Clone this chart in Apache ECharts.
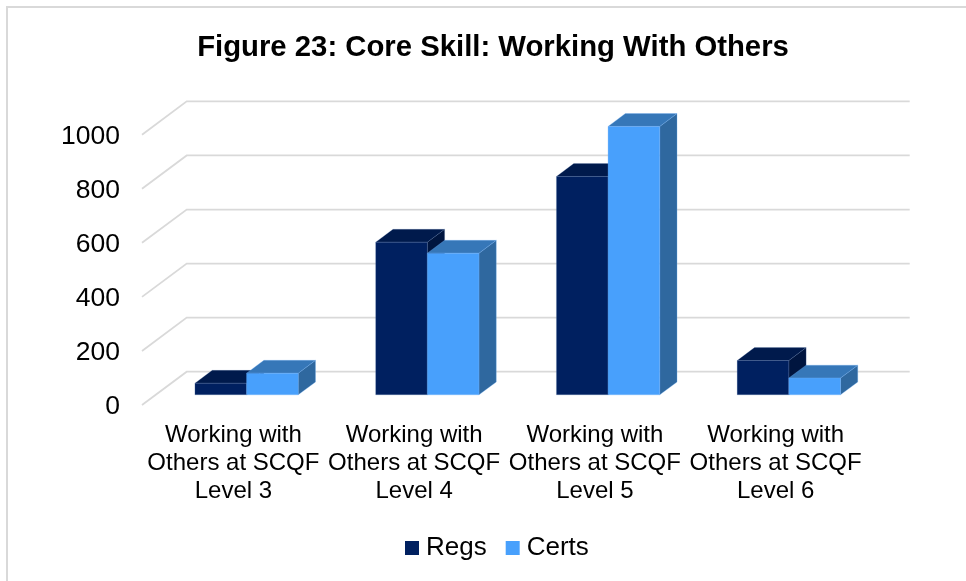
<!DOCTYPE html>
<html>
<head>
<meta charset="utf-8">
<style>html,body{margin:0;padding:0;background:#fff}#c{width:966px;height:581px}</style>
<script src="https://cdn.jsdelivr.net/npm/echarts@6/dist/echarts.min.js"></script>
</head>
<body>
<div id="c"></div>
<script>
const categories = [
  'Working with\nOthers at SCQF\nLevel 3',
  'Working with\nOthers at SCQF\nLevel 4',
  'Working with\nOthers at SCQF\nLevel 5',
  'Working with\nOthers at SCQF\nLevel 6'
];
const regs = [43, 565, 808, 127];
const certs = [80, 524, 993, 62];
const ticks = [0, 200, 400, 600, 800, 1000];

const FONT = '"Liberation Sans", Arial, sans-serif';
// oblique projection of the chart's depth axis
const DEPTH = { dx: 44.7, dy: -33.3 };
const BAR_OFFSET = { dx: 14.2, dy: -10.15 };
const BAR_DEPTH = { dx: 17.3, dy: -12.9 };

function barRenderer(slot, shades) {
  return function (params, api) {
    const i = api.value(0);
    const band = api.size([1, 0])[0];
    const w = band / 3.5;
    const top = api.coord([i, api.value(1)]);
    const base = api.coord([i, 0]);
    const x0 = top[0] + BAR_OFFSET.dx + (slot - 1) * w;
    const x1 = x0 + w;
    const yT = top[1] + BAR_OFFSET.dy;
    const yB = base[1] + BAR_OFFSET.dy;
    const ddx = BAR_DEPTH.dx, ddy = BAR_DEPTH.dy;
    const edge = { stroke: shades.edge, lineWidth: 0.6 };
    return {
      type: 'group',
      children: [
        { type: 'polygon', shape: { points: [[x1, yT], [x1 + ddx, yT + ddy], [x1 + ddx, yB + ddy], [x1, yB]] },
          style: Object.assign({ fill: shades.side }, edge) },
        { type: 'polygon', shape: { points: [[x0, yT], [x0 + ddx, yT + ddy], [x1 + ddx, yT + ddy], [x1, yT]] },
          style: Object.assign({ fill: shades.top }, edge) },
        { type: 'rect', shape: { x: x0, y: yT, width: w, height: yB - yT },
          style: Object.assign({ fill: shades.front }, edge) }
      ]
    };
  };
}

function gridRenderer(params, api) {
  const r = params.coordSys;
  const y = api.coord([0, api.value(0)])[1];
  return {
    type: 'polyline',
    shape: { points: [[r.x, y], [r.x + DEPTH.dx, y + DEPTH.dy], [r.x + r.width + DEPTH.dx, y + DEPTH.dy]] },
    style: { fill: 'none', stroke: '#D9D9D9', lineWidth: 1.75 }
  };
}

const chart = echarts.init(document.getElementById('c'), null, { renderer: 'canvas' });
chart.setOption({
  animation: false,
  backgroundColor: '#fff',
  title: {
    text: 'Figure 23: Core Skill: Working With Others',
    left: 488, top: 28, textAlign: 'center',
    textStyle: { fontFamily: FONT, fontWeight: 'bold', fontSize: 29.3, color: '#000' }
  },
  legend: {
    data: ['Regs', 'Certs'],
    left: 400, top: 530,
    itemWidth: 14, itemHeight: 14, itemGap: 19, icon: 'rect',
    textStyle: { fontFamily: FONT, fontSize: 26, color: '#000', padding: [0, 0, 0, 2] }
  },
  grid: { left: 142, top: 134.7, width: 723, height: 270.3 },
  xAxis: {
    type: 'category', data: categories,
    axisLine: { show: false }, axisTick: { show: false }, splitLine: { show: false },
    axisLabel: { fontFamily: FONT, fontSize: 24, lineHeight: 28, color: '#000', margin: 16, interval: 0, padding: [0, 0, 0, 2] }
  },
  yAxis: {
    type: 'value', min: 0, max: 1000, interval: 200,
    axisLine: { show: false }, axisTick: { show: false }, splitLine: { show: false },
    axisLabel: {
      margin: 22,
      formatter: v => '{t|' + v + '}',
      rich: { t: { fontFamily: FONT, fontSize: 26.5, color: '#000', padding: [3, 0, 0, 0] } }
    }
  },
  graphic: [{
    type: 'polyline', silent: true, z: -1,
    shape: { points: [[7, 581], [7, 7], [966, 7]] },
    style: { fill: 'none', stroke: '#D9D9D9', lineWidth: 2 }
  }],
  series: [
    { name: 'grid', type: 'custom', silent: true, z: 1, clip: false, renderItem: gridRenderer,
      data: ticks.map(t => [t]), encode: { y: 0 } },
    { name: 'Regs', type: 'custom', z: 2, clip: false, itemStyle: { color: '#002060' },
      renderItem: barRenderer(0, { front: '#002060', top: '#001A4C', side: '#00153F', edge: 'rgba(90,125,180,0.35)' }),
      data: regs.map((v, i) => [i, v]), encode: { x: 0, y: 1 } },
    { name: 'Certs', type: 'custom', z: 3, clip: false, itemStyle: { color: '#48A0FC' },
      renderItem: barRenderer(1, { front: '#48A0FC', top: '#3677B8', side: '#2F689F', edge: 'rgba(110,175,245,0.5)' }),
      data: certs.map((v, i) => [i, v]), encode: { x: 0, y: 1 } }
  ]
});
</script>
</body>
</html>
